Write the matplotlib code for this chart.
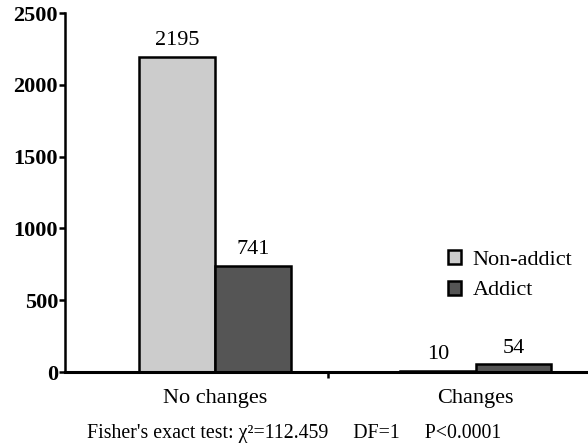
import matplotlib
matplotlib.use("Agg")
import matplotlib.pyplot as plt
import numpy as np

categories = ["No changes", "Changes"]
groups = ["Non-addict", "Addict"]
non_addict = [2195, 10]
addict = [741, 54]
yticks = [0, 500, 1000, 1500, 2000, 2500]

plt.rcParams["font.family"] = ["Liberation Serif", "DejaVu Serif"]

fig = plt.figure(figsize=(5.88, 4.48), dpi=100)
ax = fig.add_axes([65 / 588, 1 - 372 / 448, 1 - 65 / 588, (372 - 13) / 448])

x = np.arange(len(categories))
w = 0.29
b1 = ax.bar(x - w / 2, non_addict, w, color="#cccccc", edgecolor="black",
            linewidth=1.8, label=groups[0])
b2 = ax.bar(x + w / 2, addict, w, color="#555555", edgecolor="black",
            linewidth=1.8, label=groups[1])

for bars, vals in ((b1, non_addict), (b2, addict)):
    for r, v in zip(bars, vals):
        ax.text(r.get_x() + r.get_width() / 2, v + 45, str(v),
                ha="center", va="bottom", fontsize=16)

ax.set_xlim(-0.575, 1.43)
ax.set_ylim(0, 2500)
ax.set_yticks(yticks)
ax.set_yticklabels([str(t) for t in yticks], fontsize=16, fontweight="bold")
ax.set_xticks(x)
ax.set_xticklabels(categories, fontsize=16)
ax.tick_params(axis="x", length=0, pad=12)
ax.tick_params(axis="y", length=4, width=1.8, pad=1)
ax.set_xticks([0.435], minor=True)
ax.tick_params(axis="x", which="minor", length=4, width=1.8, direction="out")

for s in ("top", "right"):
    ax.spines[s].set_visible(False)
ax.spines["left"].set_linewidth(1.8)
ax.spines["bottom"].set_linewidth(2.2)

ax.legend(loc="upper left", bbox_to_anchor=((448 - 65) / 523, (372 - 250) / 359),
          frameon=False, fontsize=16, handlelength=0.6, handleheight=0.6,
          handletextpad=0.5, labelspacing=0.48, borderaxespad=0, borderpad=0)

fig.text(0.5, 1 - 433 / 448, "Fisher's exact test: \u03c7\u00b2=112.459     DF=1     P<0.0001",
         ha="center", va="center", fontsize=14.3)

fig.savefig("out.png", dpi=100)
